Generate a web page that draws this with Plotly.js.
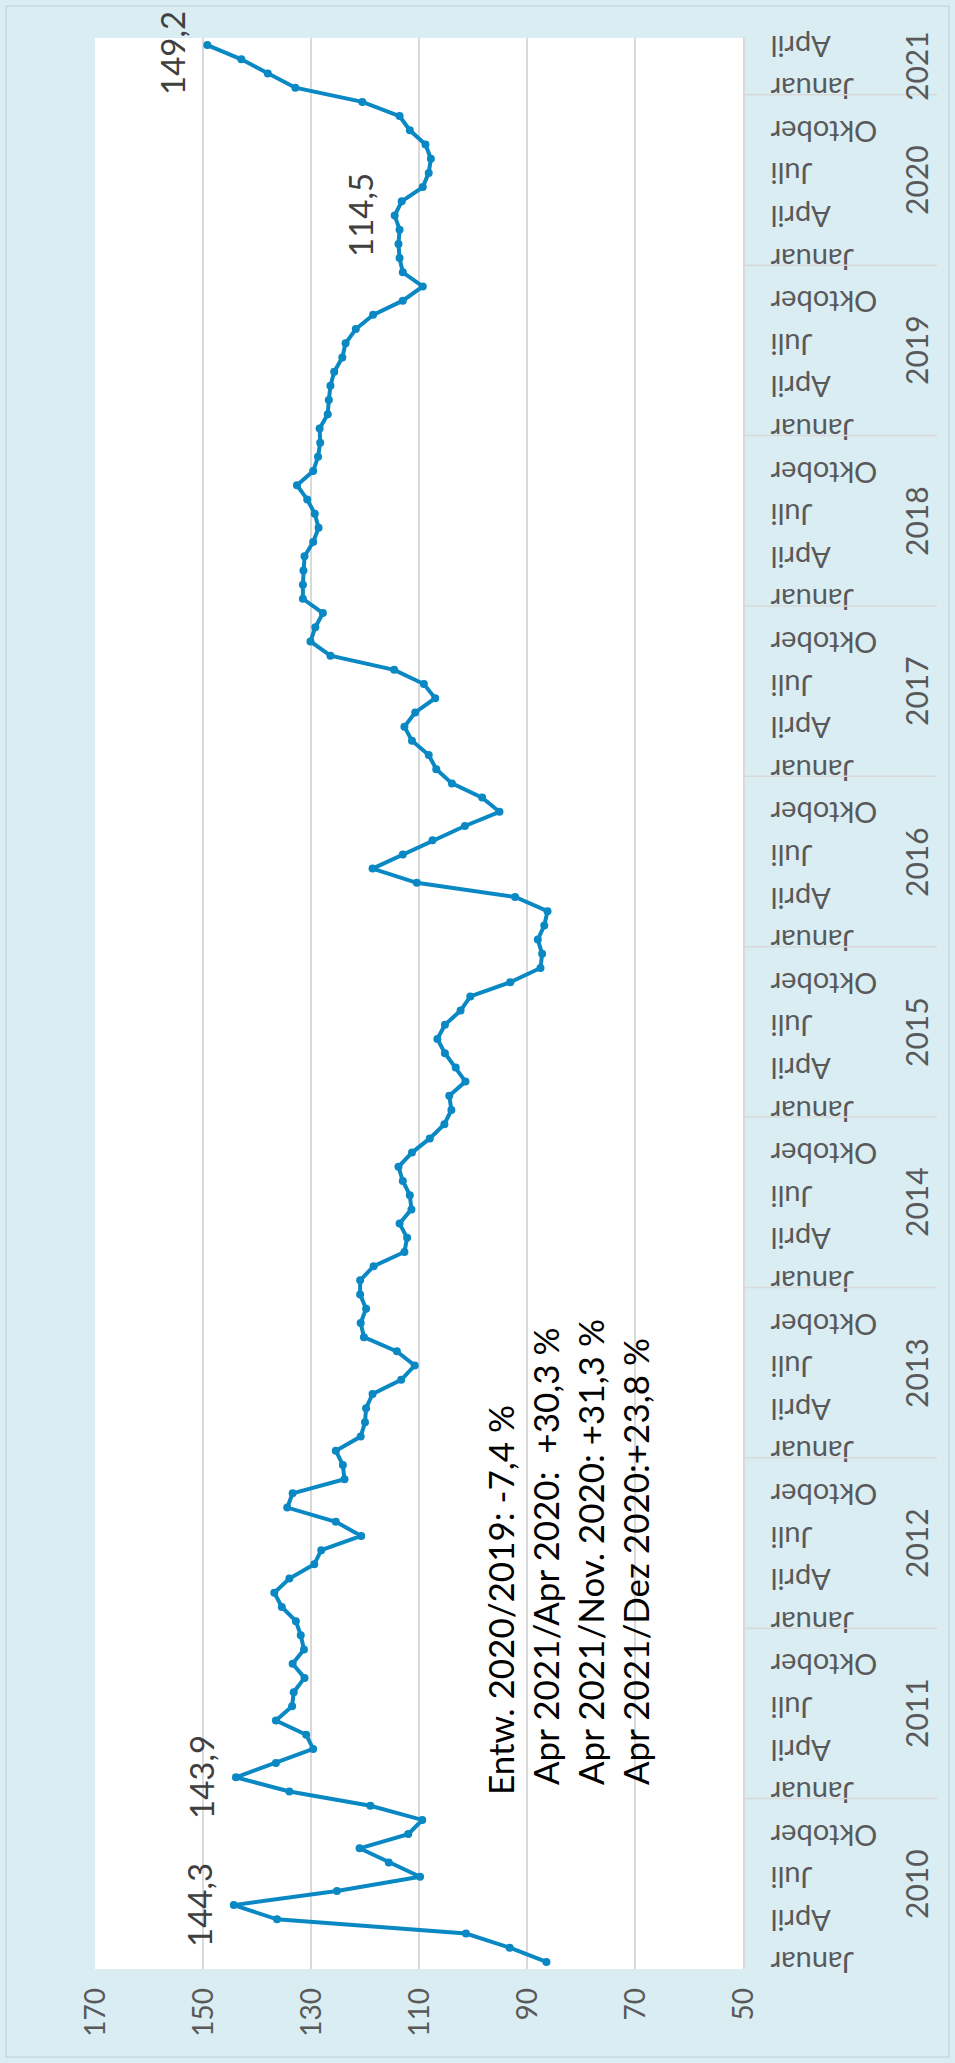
<!DOCTYPE html>
<html>
<head>
<meta charset="utf-8">
<script src="https://cdn.plot.ly/plotly-3.0.1.min.js"></script>
<style>
html,body{margin:0;padding:0;width:955px;height:2063px;overflow:hidden;background:#DAEDF3;}
#chart{position:absolute;left:0;top:2063px;width:2063px;height:955px;transform-origin:0 0;transform:rotate(-90deg);}
</style>
</head>
<body>
<div id="chart"></div>
<script>
// ---- data ----
const monthNames = ['Januar', 'April', 'Juli', 'Oktober'];
const years = ['2010','2011','2012','2013','2014','2015','2016','2017','2018','2019','2020','2021'];
const v2010 = [86.4, 93.2, 101.3, 136.3, 144.3, 125.2, 109.8, 115.6, 121.0, 112.0, 109.4, 119.0];
const v2011 = [134.0, 143.9, 136.5, 129.6, 130.9, 136.5, 133.5, 133.2, 131.2, 133.4, 131.3, 131.9];
const v2012 = [132.8, 135.4, 136.8, 134.0, 129.4, 128.1, 120.7, 125.4, 134.4, 133.4, 123.8, 124.1];
const v2013 = [125.4, 120.8, 120.0, 119.8, 118.6, 113.3, 110.8, 114.1, 120.2, 120.8, 119.8, 120.9];
const v2014 = [120.9, 118.4, 112.7, 112.2, 113.6, 111.4, 111.7, 113.0, 113.8, 111.3, 108.0, 105.3];
const v2015 = [104.0, 104.4, 101.4, 103.2, 105.2, 106.6, 105.2, 102.3, 100.5, 93.1, 87.5, 87.2];
const v2016 = [88.0, 86.8, 86.2, 92.2, 110.4, 118.6, 113.0, 107.5, 101.5, 95.1, 98.3, 103.9];
const v2017 = [106.8, 108.2, 111.3, 112.7, 110.7, 107.0, 109.1, 114.6, 126.4, 130.1, 129.2, 127.8];
const v2018 = [131.5, 131.5, 131.4, 131.2, 129.6, 128.6, 129.3, 130.7, 132.6, 129.6, 128.7, 128.3];
const v2019 = [128.4, 126.9, 126.7, 126.4, 125.7, 124.2, 123.6, 121.7, 118.5, 113.0, 109.3, 113.0];
const v2020 = [113.6, 113.8, 113.6, 114.5, 113.2, 109.3, 108.2, 107.8, 108.8, 111.7, 113.6, 120.5];
const v2021 = [132.9, 138.0, 142.9, 149.2];
const labelIdx = [4, 13, 123, 135];
const noteLines = [
  'Entw. 2020/2019: -7,4 %',
  'Apr 2021/Apr 2020:\u00a0\u00a0+30,3 %',
  'Apr 2021/Nov. 2020: +31,3 %',
  'Apr 2021/Dez 2020:+23,8 %'
];

// ---- build ----
const values = [].concat(v2010, v2011, v2012, v2013, v2014, v2015, v2016, v2017, v2018, v2019, v2020, v2021);
const xs = values.map((_, i) => i);
const tickvals = [], ticktext = [];
for (let i = 0; i < values.length; i += 3) { tickvals.push(i); ticktext.push(monthNames[(i % 12) / 3]); }

const W = 2063, H = 955;
const M = {l: 94, r: 38, t: 95, b: 212};
const PW = W - M.l - M.r, PH = H - M.t - M.b;
const px = X => (X - M.l) / PW;
const py = Y => 1 - (Y - M.t) / PH;
const FONT = 'Lato, "Open Sans", sans-serif';

const annotations = [];
labelIdx.forEach(i => {
  annotations.push({
    x: i, y: values[i], xref: 'x', yref: 'y', showarrow: false,
    text: values[i].toFixed(1).replace('.', ','), yshift: 35, yanchor: 'middle', xanchor: 'center',
    xshift: (i === values.length - 1) ? -8 : 0,
    font: {family: FONT, size: 33, color: '#404040'}
  });
});
years.forEach((yr, k) => {
  const n = (k === years.length - 1) ? v2021.length : 12;
  annotations.push({
    x: k * 12 + (n - 1) / 2, y: py(916), xref: 'x', yref: 'paper', showarrow: false,
    text: yr, xanchor: 'center', yanchor: 'middle',
    font: {family: FONT, size: 30, color: '#595959'}
  });
});
const noteY = [500, 545, 590, 635];
const noteX = [266, 276, 276, 276];
noteLines.forEach((t, j) => {
  annotations.push({
    x: px(noteX[j]), y: py(noteY[j]), xref: 'paper', yref: 'paper', showarrow: false,
    text: t, xanchor: 'left', yanchor: 'middle',
    font: {family: FONT, size: 35, color: '#000000'}
  });
});

const shapes = [];
for (let k = 1; k < years.length; k++) {
  shapes.push({type: 'line', xref: 'x', yref: 'paper', x0: k * 12 - 0.5, x1: k * 12 - 0.5,
    y0: 0, y1: py(937), line: {color: '#D9D9D9', width: 1.5}});
}
shapes.push({type: 'rect', xref: 'paper', yref: 'paper', x0: px(6), x1: px(W - 6), y0: py(H - 6), y1: py(6),
  line: {color: '#C5D9E0', width: 1.5}, fillcolor: 'rgba(0,0,0,0)', layer: 'below'});

const trace = {
  x: xs, y: values, type: 'scatter', mode: 'lines+markers',
  line: {color: '#0A88C4', width: 4},
  marker: {color: '#0A88C4', size: 8},
  hoverinfo: 'skip'
};

const layout = {
  width: W, height: H,
  margin: M,
  paper_bgcolor: '#DAEDF3',
  plot_bgcolor: '#FFFFFF',
  showlegend: false,
  font: {family: FONT},
  xaxis: {
    range: [-0.5, values.length - 0.5], tickmode: 'array', tickvals: tickvals, ticktext: ticktext,
    tickangle: -90, tickfont: {family: FONT, size: 29, color: '#595959'},
    showgrid: false, zeroline: false, showline: true, linecolor: '#D9D9D9', linewidth: 2,
    ticks: '', ticklabelstandoff: 14, fixedrange: true
  },
  yaxis: {
    range: [50, 170], tick0: 50, dtick: 20,
    tickfont: {family: FONT, size: 28, color: '#595959'},
    showgrid: true, gridcolor: '#D9D9D9', gridwidth: 1.5, zeroline: false, showline: false,
    ticks: '', ticklabelstandoff: 18, fixedrange: true
  },
  annotations: annotations,
  shapes: shapes
};

Plotly.newPlot('chart', [trace], layout, {staticPlot: true, displayModeBar: false});
</script>
</body>
</html>
